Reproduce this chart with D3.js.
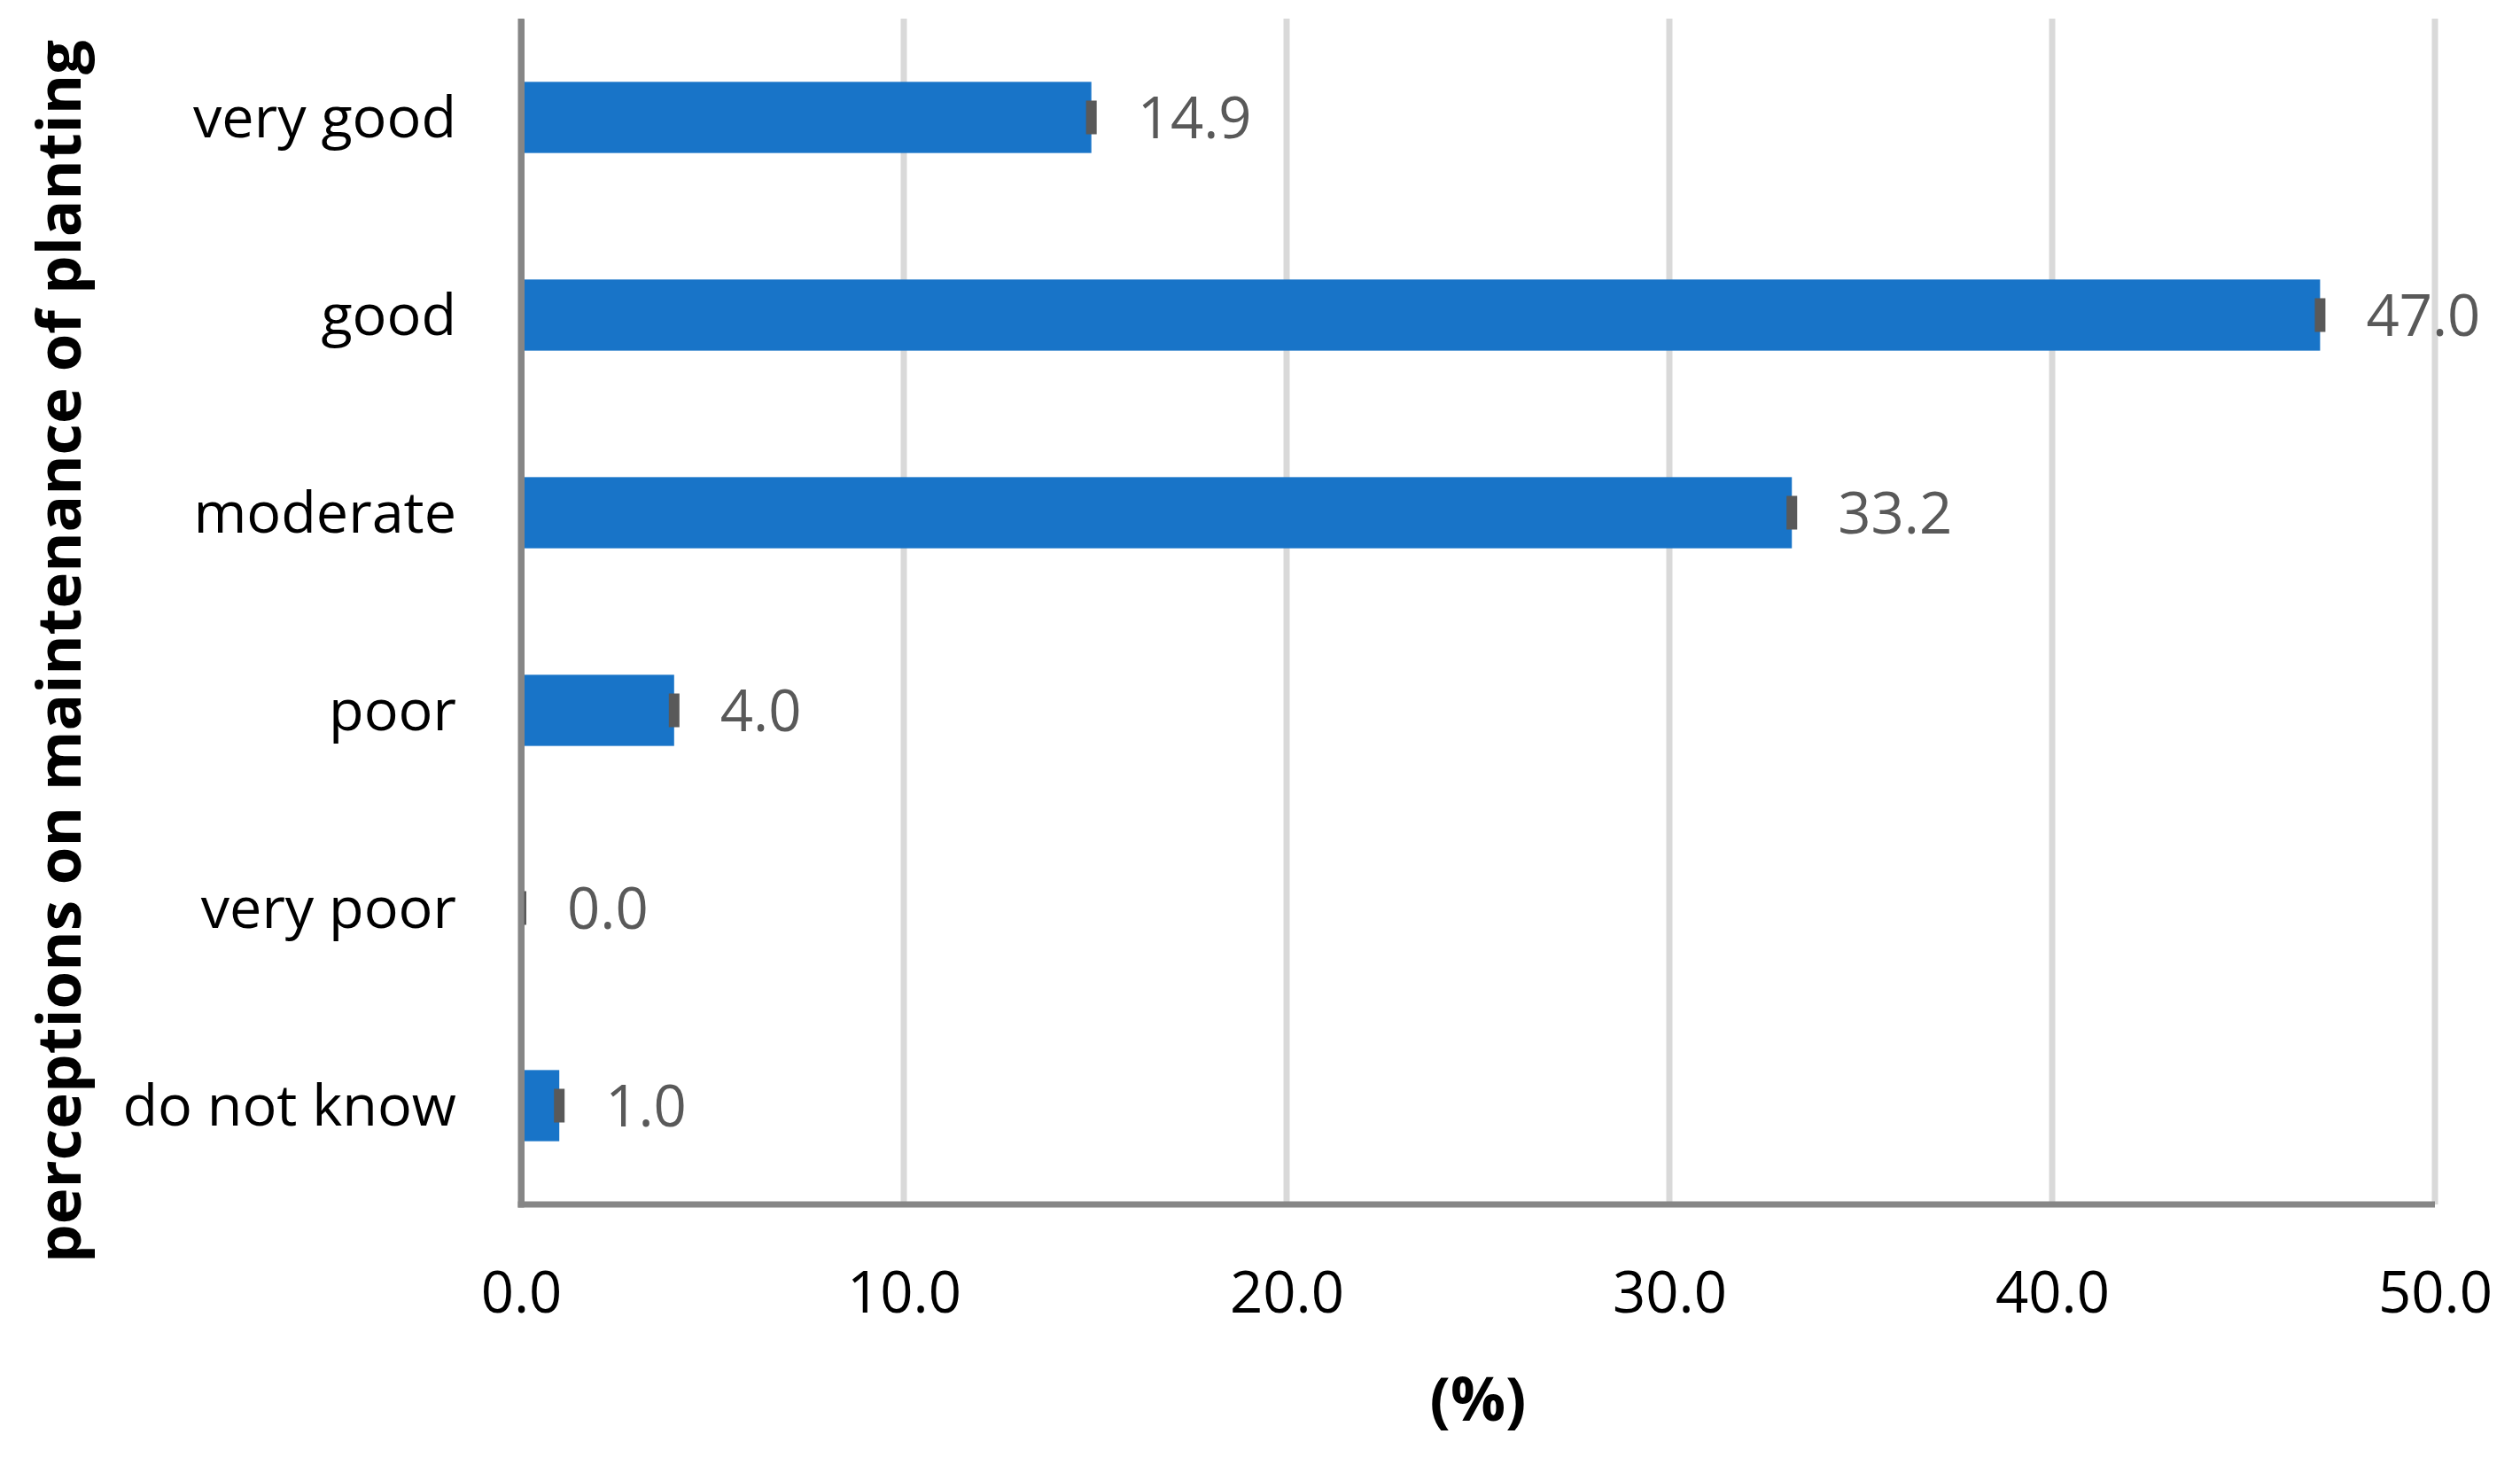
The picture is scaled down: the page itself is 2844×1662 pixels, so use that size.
<!DOCTYPE html>
<html>
<head>
<meta charset="utf-8">
<script src="https://cdn.jsdelivr.net/npm/d3@7"></script>
<style>
  html, body { margin: 0; padding: 0; background: #ffffff; }
  svg { display: block; }
</style>
</head>
<body>
<svg id="chart" width="2844" height="1662"></svg>
<script>
// ---- data ----
const categories = ["very good", "good", "moderate", "poor", "very poor", "do not know"];
const values = [14.9, 47.0, 33.2, 4.0, 0.0, 1.0];
const xTickValues = [0, 10, 20, 30, 40, 50];
const yAxisTitle = "perceptions on maintenance of planting";
const xAxisTitle = "(%)";

// ---- layout ----
const W = 2844, H = 1662;
const plot = { left: 588, right: 2748, top: 21, bottom: 1359 };
const FONT = "'Open Sans', 'Noto Sans', sans-serif";

const svg = d3.select("#chart");

// calibrate font sizes so text widths match the reference
function fitSize(text, weight, targetWidth) {
  const t = svg.append("text").attr("font-family", FONT).attr("font-weight", weight)
    .attr("font-size", 100).text(text);
  const w = t.node().getComputedTextLength();
  t.remove();
  return 100 * targetWidth / w;
}
const regSize = fitSize("very good", 400, 297);
const numSize = fitSize("47.0", 400, 129);
const boldSize = fitSize(yAxisTitle, 700, 1380);

const x = d3.scaleLinear().domain([0, 50]).range([plot.left, plot.right]);
const y = d3.scaleBand().domain(categories).range([plot.top, plot.bottom])
  .paddingInner(0.64).paddingOuter(0.32);

const data = categories.map((c, i) => ({ cat: c, val: values[i] }));

// gridlines
svg.append("g").selectAll("line").data(xTickValues.filter(d => d > 0)).join("line")
  .attr("x1", d => x(d)).attr("x2", d => x(d))
  .attr("y1", plot.top).attr("y2", plot.bottom)
  .attr("stroke", "#d9d9d9").attr("stroke-width", 7);

// bars
svg.append("g").selectAll("rect").data(data).join("rect")
  .attr("x", x(0))
  .attr("y", d => y(d.cat))
  .attr("width", d => x(d.val) - x(0))
  .attr("height", y.bandwidth())
  .attr("fill", "#1874c8");

// value labels
svg.append("g").selectAll("text").data(data).join("text")
  .attr("x", d => x(d.val) + 52)
  .attr("y", d => y(d.cat) + y.bandwidth() / 2)
  .attr("dy", "0.36em")
  .attr("font-family", FONT).attr("font-size", numSize)
  .attr("fill", "#595959")
  .text(d => d3.format(".1f")(d.val));

// y axis
const yAxis = svg.append("g").attr("transform", `translate(${plot.left},0)`)
  .call(d3.axisLeft(y).tickSize(0).tickSizeOuter(0).tickPadding(73));
yAxis.select(".domain").attr("stroke", "#868686").attr("stroke-width", 7);
yAxis.selectAll("text").attr("font-family", FONT).attr("font-size", regSize)
  .attr("fill", "#000").attr("dy", "0.34em");

// x axis
const xAxis = svg.append("g").attr("transform", `translate(0,${plot.bottom})`)
  .call(d3.axisBottom(x).tickValues(xTickValues).tickFormat(d3.format(".1f"))
    .tickSize(0).tickSizeOuter(0).tickPadding(0));
xAxis.select(".domain").attr("stroke", "#868686").attr("stroke-width", 7)
  .attr("d", `M${plot.left - 3.5},0H${plot.right}`);
xAxis.selectAll("text").attr("font-family", FONT).attr("font-size", numSize)
  .attr("fill", "#000").attr("dy", null).attr("y", 122);

// redraw y-axis domain on top so it covers bar starts
svg.append("line").attr("x1", plot.left).attr("x2", plot.left)
  .attr("y1", plot.top).attr("y2", plot.bottom + 3.5)
  .attr("stroke", "#868686").attr("stroke-width", 7);

// error bars (tiny errors → rendered as short dark caps)
const capHalfW = 6, capHalfH = 19;
svg.append("g").selectAll("rect").data(data).join("rect")
  .attr("x", d => Math.max(x(d.val) - capHalfW, plot.left + 3.5))
  .attr("y", d => y(d.cat) + y.bandwidth() / 2 - capHalfH)
  .attr("width", d => x(d.val) + capHalfW - Math.max(x(d.val) - capHalfW, plot.left + 3.5))
  .attr("height", capHalfH * 2)
  .attr("fill", "#595959");

// axis titles
svg.append("text")
  .attr("transform", `translate(91,${(45 + 1425) / 2}) rotate(-90)`)
  .attr("text-anchor", "middle")
  .attr("font-family", FONT).attr("font-weight", 700).attr("font-size", boldSize)
  .attr("fill", "#000")
  .text(yAxisTitle);

svg.append("text")
  .attr("x", (plot.left + plot.right) / 2)
  .attr("y", 1603)
  .attr("text-anchor", "middle")
  .attr("font-family", FONT).attr("font-weight", 700).attr("font-size", boldSize)
  .attr("fill", "#000")
  .text(xAxisTitle);
</script>
</body>
</html>
